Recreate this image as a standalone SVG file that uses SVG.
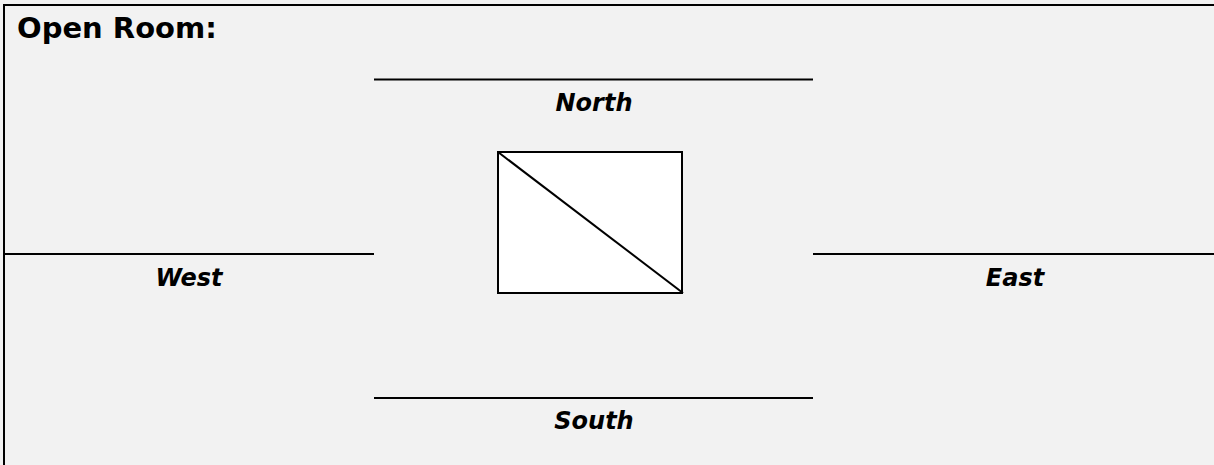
<svg xmlns="http://www.w3.org/2000/svg" width="1214" height="465" viewBox="0 0 1214 465">
<style>
.lbl{font-family:"DejaVu Sans",Verdana,sans-serif;font-weight:bold;font-style:italic;font-size:24px;fill:#000;text-anchor:middle}
.title{font-family:"DejaVu Sans",Verdana,sans-serif;font-weight:bold;font-size:29px;fill:#000}
.wall{stroke:#000;stroke-width:2;fill:none}
</style>
<rect x="0" y="0" width="1214" height="465" fill="#f2f2f2"/>
<g id="frame">
<line class="wall" x1="4" y1="5" x2="1214" y2="5" stroke-width="2.5"/>
<line class="wall" x1="4" y1="4" x2="4" y2="465"/>
</g>
<g id="title"><text class="title" x="17" y="38">Open Room:</text></g>
<g id="connectors">
<line class="wall" x1="374" y1="79.5" x2="813" y2="79.5"/>
<line class="wall" x1="4" y1="254" x2="374" y2="254"/>
<line class="wall" x1="813" y1="254" x2="1214" y2="254"/>
<line class="wall" x1="374" y1="398" x2="813" y2="398" stroke-width="1.3"/>
</g>
<g id="north"><text class="lbl" x="594" y="111">North</text></g>
<g id="west"><text class="lbl" x="189" y="286">West</text></g>
<g id="east"><text class="lbl" x="1015" y="286">East</text></g>
<g id="south"><text class="lbl" x="594" y="429">South</text></g>
<g id="box">
<rect x="498" y="152" width="184" height="141" fill="#fff" stroke="#000" stroke-width="2"/>
<line x1="498" y1="152" x2="683" y2="293" stroke="#000" stroke-width="2"/>
</g>
</svg>
